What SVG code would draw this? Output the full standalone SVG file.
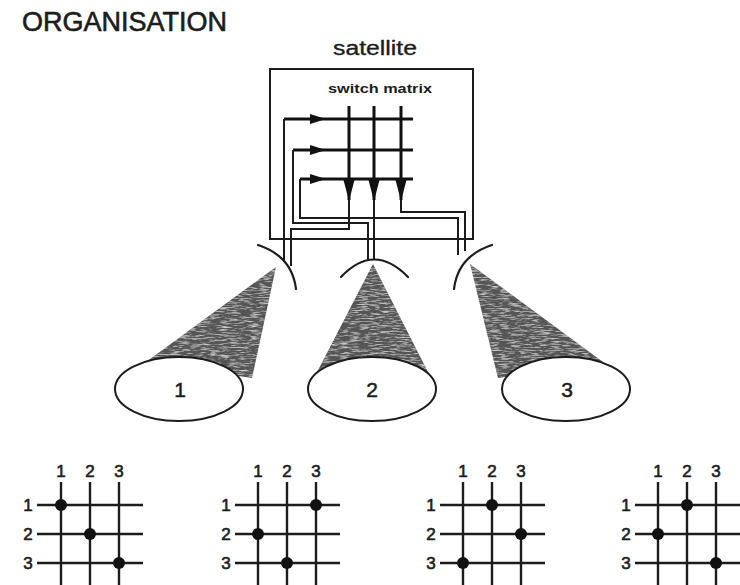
<svg xmlns="http://www.w3.org/2000/svg" width="740" height="585" viewBox="0 0 740 585">
  <style>
    text { font-family: "Liberation Sans", Arial, sans-serif; fill: #1c1c1c; }
    .title { font-size: 27px; stroke: #1c1c1c; stroke-width: 0.6px; }
    .sat { font-size: 20px; stroke: #1c1c1c; stroke-width: 0.35px; }
    .sw { font-size: 12px; font-weight: bold; }
    .cell { font-size: 21px; text-anchor: middle; stroke: #1c1c1c; stroke-width: 0.5px; }
    .num { font-size: 17px; text-anchor: middle; stroke: #1c1c1c; stroke-width: 0.6px; }
    .box { fill: none; stroke: #1c1c1c; stroke-width: 2; }
    .mx { fill: none; stroke: #111; stroke-width: 3; stroke-linecap: butt; }
    .feed { fill: none; stroke: #1c1c1c; stroke-width: 2; }
    .dish { fill: none; stroke: #1c1c1c; stroke-width: 2.2; stroke-linecap: round; }
    .beam { fill: #555; stroke: none; filter: url(#grain); }
    .spot { fill: #fff; stroke: #1c1c1c; stroke-width: 2; }
    .gl { stroke: #1c1c1c; stroke-width: 2.4; }
    .dot { fill: #111; }
    .ah { fill: #111; }
  </style>
  <defs>
    <!-- streaky speckled texture for the beam cones -->
    <filter id="grain" x="0" y="0" width="1" height="1">
      <feTurbulence type="fractalNoise" baseFrequency="0.1 0.7" numOctaves="3" seed="5" result="noise"/>
      <feColorMatrix in="noise" type="matrix" values="0 0 0 0 1  0 0 0 0 1  0 0 0 0 1  1.5 0 0 0 -0.7" result="specks"/>
      <feComposite in="specks" in2="SourceAlpha" operator="in" result="clipped"/>
      <feMerge>
        <feMergeNode in="SourceGraphic"/>
        <feMergeNode in="clipped"/>
      </feMerge>
    </filter>
    <path id="ah-right" d="M0,-5 L16,0 L0,5 Z"/>
    <path id="ah-down" d="M-5.5,0 L5.5,0 L0,21 Z"/>
  </defs>

  <rect width="740" height="585" fill="#fff"/>

  <g id="title">
    <text class="title" x="22" y="31">ORGANISATION</text>
  </g>

  <!-- satellite body with its switch matrix -->
  <g id="satellite">
    <text class="sat" x="333" y="55" textLength="84" lengthAdjust="spacingAndGlyphs">satellite</text>
    <rect class="box" x="270" y="69" width="203" height="170"/>
    <text class="sw" x="328" y="93" textLength="104" lengthAdjust="spacingAndGlyphs">switch matrix</text>
  </g>

  <g id="switch-matrix">
    <line class="mx" x1="284" y1="119" x2="413" y2="119"/>
    <line class="mx" x1="293" y1="150" x2="413" y2="150"/>
    <line class="mx" x1="300" y1="179" x2="413" y2="179"/>
    <line class="mx" x1="349" y1="106" x2="349" y2="200"/>
    <line class="mx" x1="374" y1="106" x2="374" y2="200"/>
    <line class="mx" x1="401" y1="106" x2="401" y2="200"/>
    <use href="#ah-right" class="ah" x="310" y="119"/>
    <use href="#ah-right" class="ah" x="310" y="150"/>
    <use href="#ah-right" class="ah" x="310" y="179"/>
    <use href="#ah-down" class="ah" x="349" y="180"/>
    <use href="#ah-down" class="ah" x="374" y="180"/>
    <use href="#ah-down" class="ah" x="401" y="180"/>
  </g>

  <!-- feeds between the matrix and the antennas -->
  <g id="connectors">
    <path class="feed" d="M284 119 V262"/>
    <path class="feed" d="M349 200 V229 H291 V266"/>
    <path class="feed" d="M293 150 V223 H368 V261"/>
    <path class="feed" d="M374 200 V260"/>
    <path class="feed" d="M300 179 V218 H458 V255"/>
    <path class="feed" d="M401 200 V212 H465 V251"/>
  </g>

  <!-- beams -->
  <g id="beam-1"><polygon class="beam" points="276,267 146,362 252,378"/></g>
  <g id="beam-2"><polygon class="beam" points="373,264 314,378 431,378"/></g>
  <g id="beam-3"><polygon class="beam" points="470,264 498,378 603,362"/></g>

  <g id="antenna-1"><path class="dish" d="M258 245 Q292 256 296 289"/></g>
  <g id="antenna-2"><path class="dish" d="M341 277 Q374 242 408 277"/></g>
  <g id="antenna-3"><path class="dish" d="M492 245 Q458 256 454 289"/></g>

  <g id="cell-1">
    <ellipse class="spot" cx="179" cy="389" rx="64" ry="32"/>
    <text class="cell" x="180" y="397">1</text>
  </g>
  <g id="cell-2">
    <ellipse class="spot" cx="372" cy="389" rx="64" ry="32"/>
    <text class="cell" x="372" y="397">2</text>
  </g>
  <g id="cell-3">
    <ellipse class="spot" cx="566" cy="389" rx="64" ry="32"/>
    <text class="cell" x="567" y="397">3</text>
  </g>

  <!-- switch states -->
  <g id="state-1">
    <text class="num" x="61" y="477">1</text><text class="num" x="90" y="477">2</text><text class="num" x="119" y="477">3</text>
    <text class="num" x="28" y="511">1</text><text class="num" x="28" y="540">2</text><text class="num" x="28" y="569">3</text>
    <line class="gl" x1="61" y1="482" x2="61" y2="585"/><line class="gl" x1="90" y1="482" x2="90" y2="585"/><line class="gl" x1="119" y1="482" x2="119" y2="585"/>
    <line class="gl" x1="37" y1="505" x2="143" y2="505"/><line class="gl" x1="37" y1="534" x2="143" y2="534"/><line class="gl" x1="37" y1="563" x2="143" y2="563"/>
    <circle class="dot" cx="61" cy="505" r="6"/><circle class="dot" cx="90" cy="534" r="6"/><circle class="dot" cx="119" cy="563" r="6"/>
  </g>
  <g id="state-2">
    <text class="num" x="258" y="477">1</text><text class="num" x="287" y="477">2</text><text class="num" x="316" y="477">3</text>
    <text class="num" x="226" y="511">1</text><text class="num" x="226" y="540">2</text><text class="num" x="226" y="569">3</text>
    <line class="gl" x1="258" y1="482" x2="258" y2="585"/><line class="gl" x1="287" y1="482" x2="287" y2="585"/><line class="gl" x1="316" y1="482" x2="316" y2="585"/>
    <line class="gl" x1="235" y1="505" x2="340" y2="505"/><line class="gl" x1="235" y1="534" x2="340" y2="534"/><line class="gl" x1="235" y1="563" x2="340" y2="563"/>
    <circle class="dot" cx="316" cy="505" r="6"/><circle class="dot" cx="258" cy="534" r="6"/><circle class="dot" cx="287" cy="563" r="6"/>
  </g>
  <g id="state-3">
    <text class="num" x="463" y="477">1</text><text class="num" x="492" y="477">2</text><text class="num" x="521" y="477">3</text>
    <text class="num" x="431" y="511">1</text><text class="num" x="431" y="540">2</text><text class="num" x="431" y="569">3</text>
    <line class="gl" x1="463" y1="482" x2="463" y2="585"/><line class="gl" x1="492" y1="482" x2="492" y2="585"/><line class="gl" x1="521" y1="482" x2="521" y2="585"/>
    <line class="gl" x1="440" y1="505" x2="545" y2="505"/><line class="gl" x1="440" y1="534" x2="545" y2="534"/><line class="gl" x1="440" y1="563" x2="545" y2="563"/>
    <circle class="dot" cx="492" cy="505" r="6"/><circle class="dot" cx="521" cy="534" r="6"/><circle class="dot" cx="463" cy="563" r="6"/>
  </g>
  <g id="state-4">
    <text class="num" x="658" y="477">1</text><text class="num" x="687" y="477">2</text><text class="num" x="716" y="477">3</text>
    <text class="num" x="626" y="511">1</text><text class="num" x="626" y="540">2</text><text class="num" x="626" y="569">3</text>
    <line class="gl" x1="658" y1="482" x2="658" y2="585"/><line class="gl" x1="687" y1="482" x2="687" y2="585"/><line class="gl" x1="716" y1="482" x2="716" y2="585"/>
    <line class="gl" x1="635" y1="505" x2="740" y2="505"/><line class="gl" x1="635" y1="534" x2="740" y2="534"/><line class="gl" x1="635" y1="563" x2="740" y2="563"/>
    <circle class="dot" cx="687" cy="505" r="6"/><circle class="dot" cx="658" cy="534" r="6"/><circle class="dot" cx="716" cy="563" r="6"/>
  </g>
</svg>
